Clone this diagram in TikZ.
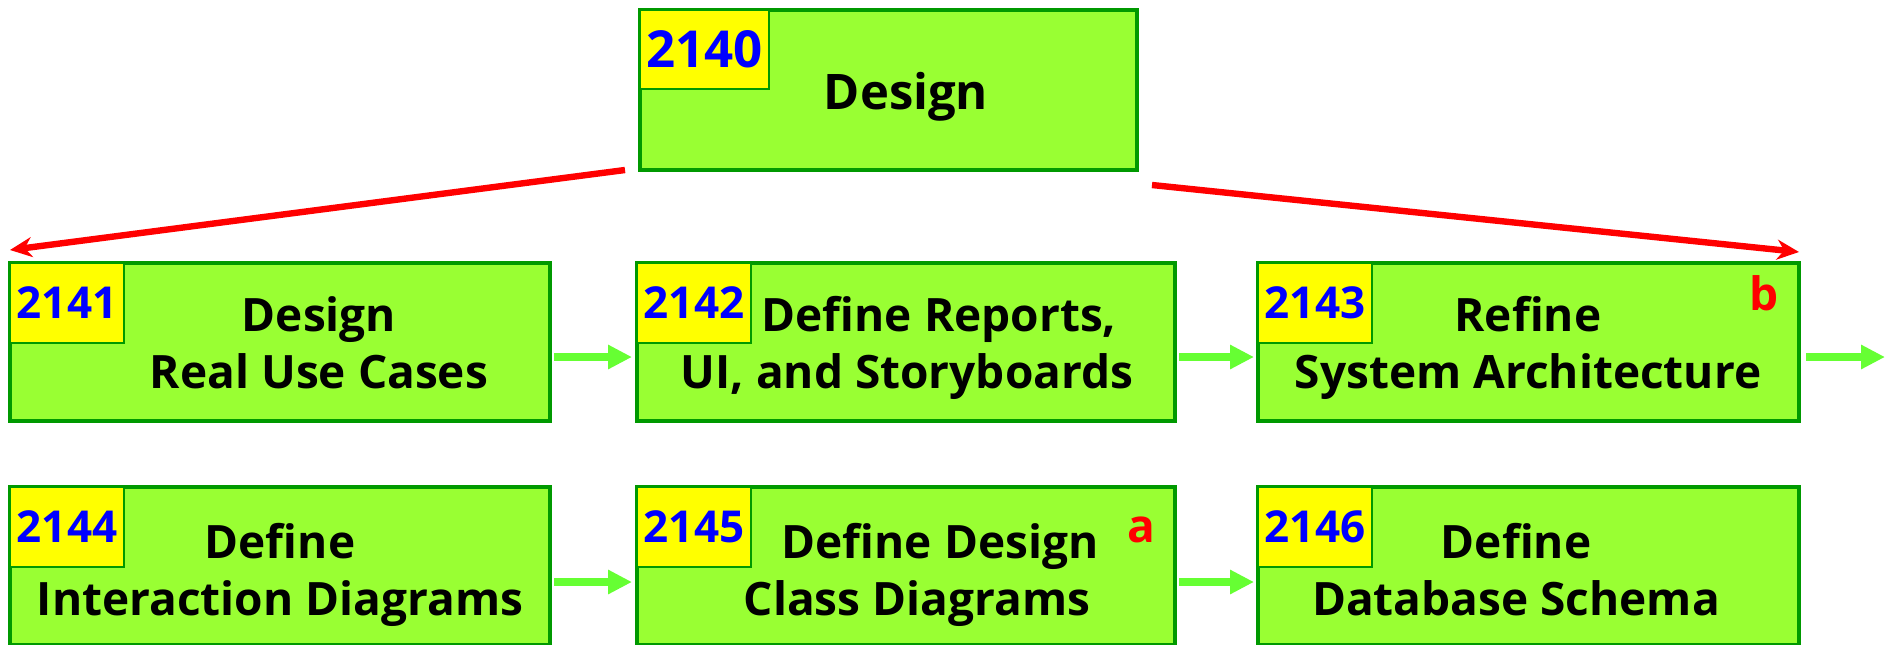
\documentclass[tikz,border=0pt]{standalone}
\usepackage{fontspec}
\setmainfont{Open Sans}
\usetikzlibrary{arrows.meta,calc}
\definecolor{boxfill}{RGB}{153,255,51}
\definecolor{boxline}{RGB}{0,153,0}
\definecolor{numfill}{RGB}{255,255,0}
\definecolor{numtext}{RGB}{0,0,255}
\definecolor{arrowred}{RGB}{255,0,0}
\definecolor{arrowgreen}{RGB}{102,255,51}
\tikzset{
  stepbox/.style={draw=boxline, fill=boxfill, line width=2pt, anchor=north west, inner sep=0pt, outer sep=0pt, minimum width=270pt, minimum height=79pt},
  numbox/.style={draw=boxline, fill=numfill, line width=1pt, anchor=north west, inner sep=0pt, outer sep=0pt, minimum width=57pt, minimum height=40pt, text=numtext, font=\bfseries\fontsize{22}{26}\selectfont},
  steplabel/.style={font=\bfseries\fontsize{23}{28.5}\selectfont, align=center, anchor=base, inner sep=0pt},
  marklabel/.style={font=\bfseries\fontsize{23}{28}\selectfont, text=arrowred, anchor=base, inner sep=0pt},
  redarrow/.style={draw=arrowred, line width=3.2pt, -{Stealth[length=11pt,width=10pt]}},
  greenarrow/.style={draw=arrowgreen, line width=3.8pt, -{Triangle[length=12pt,width=11.5pt]}}
}
\begin{document}
\begin{tikzpicture}[x=0.5pt,y=-0.5pt]
\clip (0,0) rectangle (1892,644);
% boxes
\node[stepbox, minimum width=248.5pt, minimum height=80pt] (b2140) at (640,10) {};
\node[stepbox] (b2141) at (10,263) {};
\node[stepbox, minimum width=269pt] (b2142) at (637,263) {};
\node[stepbox, minimum width=270.5pt] (b2143) at (1258,263) {};
\node[stepbox] (b2144) at (10,487) {};
\node[stepbox, minimum width=269pt] (b2145) at (637,487) {};
\node[stepbox, minimum width=270.5pt] (b2146) at (1258,487) {};
% number boxes
\node[numbox, minimum width=64.5pt, minimum height=39.5pt, font=\bfseries\fontsize{25.5}{30}\selectfont] (n2140) at (b2140.north west) {2140};
\node[numbox] (n2141) at (b2141.north west) {2141};
\node[numbox] (n2142) at (b2142.north west) {2142};
\node[numbox] (n2143) at (b2143.north west) {2143};
\node[numbox] (n2144) at (b2144.north west) {2144};
\node[numbox] (n2145) at (b2145.north west) {2145};
\node[numbox] (n2146) at (b2146.north west) {2146};
% labels (anchor base = baseline of last line)
\node[steplabel, font=\bfseries\fontsize{24.5}{30}\selectfont] (t2140) at (906,109) {Design};
\node[steplabel] (t2141) at (319,388) {Design\\Real Use Cases};
\node[steplabel] (t2142) at (907,388) {\hspace*{32pt}Define Reports,\\UI, and Storyboards};
\node[steplabel] (t2143) at (1528,388) {Refine\\System Architecture};
\node[steplabel] (t2144) at (280,615) {Define\\Interaction Diagrams};
\node[steplabel] (t2145) at (917,615) {\hspace*{23pt}Define Design\\Class Diagrams};
\node[steplabel] (t2146) at (1516,615) {Define\\Database Schema};
\node[marklabel] (mb) at (1764,310) {b};
\node[marklabel] (ma) at (1141,542) {a};
% red arrows
\draw[redarrow] ($(b2140.south west)+(-15,0)$) -- ($(b2141.north west)+(0,-13)$);
\draw[redarrow] ($(b2140.south east)+(15,15)$) -- ($(b2143.north east)+(0,-11)$);
% green arrows
\draw[greenarrow] ($(b2141.east)+(4,15)$) -- ($(b2142.west)+(-5,15)$);
\draw[greenarrow] ($(b2142.east)+(4,15)$) -- ($(b2143.west)+(-4,15)$);
\coordinate (out) at (1885,357);
\draw[greenarrow] ($(b2143.east)+(7,15)$) -- (out);
\draw[greenarrow] ($(b2144.east)+(4,16)$) -- ($(b2145.west)+(-5,16)$);
\draw[greenarrow] ($(b2145.east)+(4,16)$) -- ($(b2146.west)+(-4,16)$);
\end{tikzpicture}
\end{document}
